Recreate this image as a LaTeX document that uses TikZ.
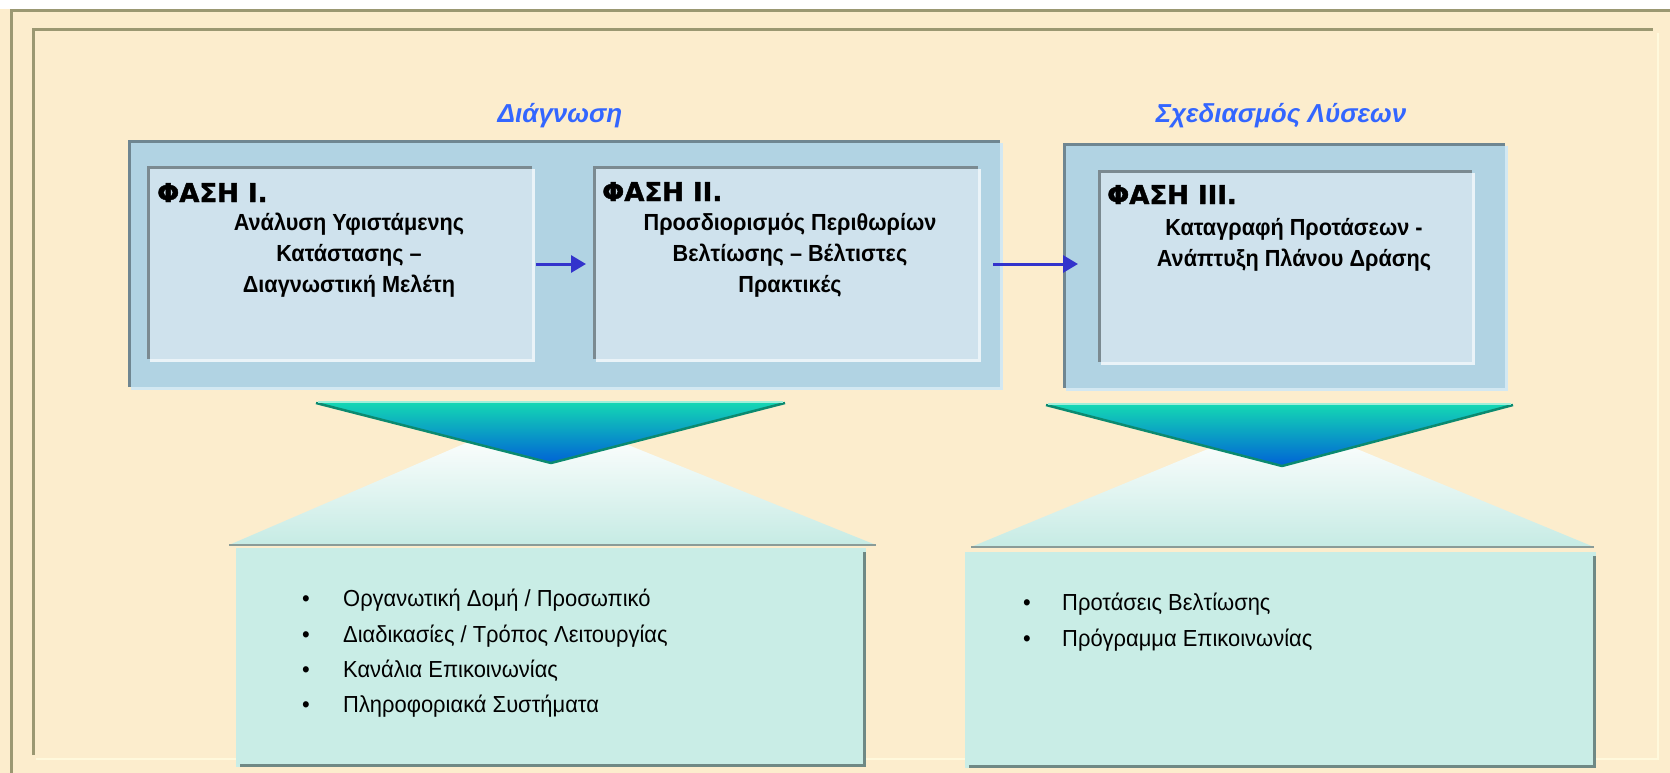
\documentclass[tikz,border=0pt]{standalone}
\usepackage{fontspec}
\setmainfont{Liberation Sans}
\newfontfamily\heavyfont{DejaVu Sans Bold}[FakeBold=1.6]
\newfontfamily\phasefont{Liberation Sans}[FakeStretch=0.93]
\newfontfamily\itemfont{Liberation Sans}[FakeStretch=0.945]
\usetikzlibrary{arrows.meta}

\definecolor{parch}{HTML}{FCEDCD}
\definecolor{framedark}{HTML}{9B9872}
\definecolor{framelight}{HTML}{FFF9DC}
\definecolor{panelfill}{HTML}{B1D3E3}
\definecolor{paneledge}{HTML}{6F8691}
\definecolor{panellight}{HTML}{D3E8F2}
\definecolor{cardfill}{HTML}{CFE2ED}
\definecolor{cardedge}{HTML}{7B8A91}
\definecolor{cardlight}{HTML}{EAF3F8}
\definecolor{titleblue}{HTML}{3366FF}
\definecolor{arrowblue}{HTML}{3333CC}
\definecolor{funneltop}{HTML}{14D6B4}
\definecolor{funnelmid}{HTML}{22CFE2}
\definecolor{funnelbot}{HTML}{0062D6}
\definecolor{funneledge}{HTML}{0B8A70}
\definecolor{funnelhi}{HTML}{9FEFDA}
\definecolor{conebot}{HTML}{C6EBE4}
\definecolor{conebase}{HTML}{8A9C98}
\definecolor{listfill}{HTML}{C9EDE6}
\definecolor{listshadow}{HTML}{6F8985}

% raised look: dark top/left edge, light bottom/right edge
\newcommand\bevelbox[3]{%
  \draw[#3, line width=2.5pt] ([xshift=3pt,yshift=-1.25pt]#1.south west) -- ([xshift=1.25pt,yshift=-1.25pt]#1.south east) -- ([xshift=1.25pt,yshift=-3pt]#1.north east);
  \draw[#2, line width=3pt] ([xshift=1.5pt]#1.south west) -- ([xshift=1.5pt,yshift=-1.5pt]#1.north west) -- ([yshift=-1.5pt]#1.north east);
}
% drop shadow on the right and bottom of a list box
\newcommand\shadowbox[1]{%
  \draw[listshadow, line width=3pt] ([xshift=4pt,yshift=1.5pt]#1.south west) -- ([xshift=-1.5pt,yshift=1.5pt]#1.south east) -- ([xshift=-1.5pt,yshift=-4pt]#1.north east);
}
% one bulleted list entry: name, x of bullet, x of text, baseline, text
\newcommand\listentry[5]{%
  \node[itemtext] (#1bullet) at (#2,#4) {•};
  \node[itemtext] (#1) at (#3,#4) {#5};
}

\begin{document}
\begin{tikzpicture}[x=1pt,y=-1pt,
  panel/.style={fill=panelfill, inner sep=0pt, outer sep=0pt},
  card/.style={fill=cardfill, inner sep=0pt, outer sep=0pt},
  listbox/.style={fill=listfill, inner sep=0pt, outer sep=0pt},
  heading/.style={anchor=base, inner sep=0pt, text=titleblue, font=\fontsize{26}{30}\selectfont\bfseries\itshape},
  phaselabel/.style={anchor=base west, inner sep=0pt, font=\heavyfont\fontsize{26}{30}\selectfont},
  bodytext/.style={anchor=base, inner sep=0pt, font=\phasefont\fontsize{23.3}{31}\selectfont\bfseries},
  itemtext/.style={anchor=base west, inner sep=0pt, font=\itemfont\fontsize{23.2}{36}\selectfont},
  flow/.style={arrowblue, line width=3pt, -{Triangle[length=15pt,width=17pt]}}
]
\useasboundingbox (0,0) rectangle (1670,773);

% parchment ground and double frame
\fill[parch] (0,0) rectangle (1670,773);
\fill[white] (0,0) rectangle (1670,9);
\draw[framedark, line width=3pt] (11,773) -- (11,10.5) -- (1670,10.5);
\draw[framelight, line width=2.5pt] (36,759) -- (1658,759) -- (1658,33);
\draw[framedark, line width=3pt] (33,755) -- (33,29.5) -- (1653,29.5);

% group headings
\node[heading] (diagtitle) at (560,123) {Διάγνωση};
\node[heading] (plantitle) at (1281,123) {Σχεδιασμός Λύσεων};

% group panels
\node[panel, minimum width=872pt, minimum height=247pt] (diag) at (564,263.5) {};
\bevelbox{diag}{paneledge}{panellight}
\node[panel, minimum width=442pt, minimum height=245pt] (plan) at (1284,265.5) {};
\bevelbox{plan}{paneledge}{panellight}

% phase cards
\node[card, minimum width=385pt, minimum height=193pt] (p1) at (339.5,262.5) {};
\bevelbox{p1}{cardedge}{cardlight}
\node[card, minimum width=385pt, minimum height=193pt] (p2) at (785.5,262.5) {};
\bevelbox{p2}{cardedge}{cardlight}
\node[card, minimum width=374pt, minimum height=192pt] (p3) at (1285,266) {};
\bevelbox{p3}{cardedge}{cardlight}

% phase texts
\node[phaselabel] (p1head) at (157,202) {ΦΑΣΗ I.};
\node[bodytext] (p1line1) at (349,230) {Ανάλυση Υφιστάμενης};
\node[bodytext] (p1line2) at (349,261) {Κατάστασης –};
\node[bodytext] (p1line3) at (349,292) {Διαγνωστική Μελέτη};

\node[phaselabel] (p2head) at (602,201) {ΦΑΣΗ II.};
\node[bodytext] (p2line1) at (790,230) {Προσδιορισμός Περιθωρίων};
\node[bodytext] (p2line2) at (790,261) {Βελτίωσης – Βέλτιστες};
\node[bodytext] (p2line3) at (790,292) {Πρακτικές};

\node[phaselabel] (p3head) at (1107,204) {ΦΑΣΗ III.};
\node[bodytext] (p3line1) at (1294,235) {Καταγραφή Προτάσεων -};
\node[bodytext] (p3line2) at (1294,266) {Ανάπτυξη Πλάνου Δράσης};

% flow between phases
\draw[flow, shorten <=4pt, shorten >=7pt] ([yshift=-1.5pt]p1.east) -- ([yshift=-1.5pt]p2.west);
\coordinate (a2start) at ([yshift=-1.5pt]p2.east);
\draw[flow, shorten <=15pt, shorten >=20pt] (a2start) -- (a2start -| p3.west);

% light cones opening towards the lists
\shade[top color=white, bottom color=conebot] (496,430) -- (591,430) -- (876,545) -- (229,545) -- cycle;
\draw[conebase, line width=2.5pt] (229,545) -- (876,545);
\shade[top color=white, bottom color=conebot] (1249,432) -- (1316,432) -- (1594,547) -- (971,547) -- cycle;
\draw[conebase, line width=2.5pt] (971,547) -- (1594,547);

% funnels
\shade[top color=funneltop, middle color=funnelmid, bottom color=funnelbot] (316,403) -- (785,403) -- (551,463) -- cycle;
\draw[funneledge, line width=2.5pt, line join=round] (316,403) -- (551,463) -- (785,403);
\draw[funnelhi, line width=2pt] (318,402) -- (783,402);
\shade[top color=funneltop, middle color=funnelmid, bottom color=funnelbot] (1046,405) -- (1513,405) -- (1282,466) -- cycle;
\draw[funneledge, line width=2.5pt, line join=round] (1046,405) -- (1282,466) -- (1513,405);
\draw[funnelhi, line width=2pt] (1048,404) -- (1511,404);

% lists
\node[listbox, minimum width=630pt, minimum height=219pt] (list1) at (551,657.5) {};
\shadowbox{list1}
\node[listbox, minimum width=631pt, minimum height=216pt] (list2) at (1280.5,660) {};
\shadowbox{list2}

\listentry{l1a}{302}{343}{606}{Οργανωτική Δομή / Προσωπικό}
\listentry{l1b}{302}{343}{642}{Διαδικασίες / Τρόπος Λειτουργίας}
\listentry{l1c}{302}{343}{677}{Κανάλια Επικοινωνίας}
\listentry{l1d}{302}{343}{712}{Πληροφοριακά Συστήματα}
\listentry{l2a}{1023}{1062}{610}{Προτάσεις Βελτίωσης}
\listentry{l2b}{1023}{1062}{646}{Πρόγραμμα Επικοινωνίας}
\end{tikzpicture}
\end{document}
